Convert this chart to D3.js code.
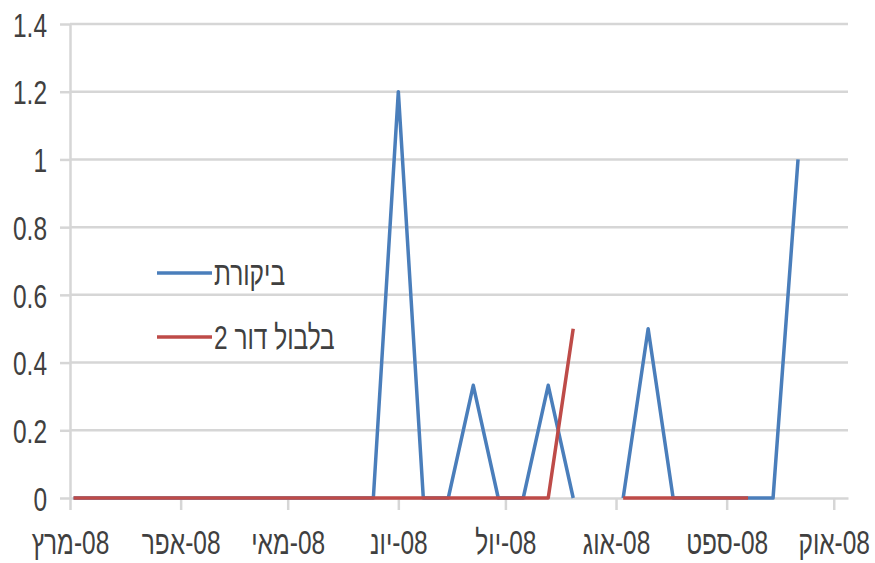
<!DOCTYPE html>
<html>
<head>
<meta charset="utf-8">
<script src="https://cdn.jsdelivr.net/npm/d3@7"></script>
<style>
  body { margin: 0; background: #fff; }
  text { font-family: "Liberation Sans", Arial, sans-serif; fill: #404040; }
</style>
</head>
<body>
<div id="vis"></div>
<script>
// weekly dates (sundays)
var dates = ["2008-03-02","2008-03-09","2008-03-16","2008-03-23","2008-03-30",
  "2008-04-06","2008-04-13","2008-04-20","2008-04-27","2008-05-04","2008-05-11",
  "2008-05-18","2008-05-25","2008-06-01","2008-06-08","2008-06-15","2008-06-22",
  "2008-06-29","2008-07-06","2008-07-13","2008-07-20","2008-07-27","2008-08-03",
  "2008-08-10","2008-08-17","2008-08-24","2008-08-31","2008-09-07","2008-09-14",
  "2008-09-21"];

var control = [0,0,0,0,0, 0,0,0,0,0,0, 0,0,1.2,0,0,0.333, 0,0,0.333,0,null,0,
  0.5,0,0,0,0,0, 1];
var confusion = [0,0,0,0,0, 0,0,0,0,0,0, 0,0,0,0,0,0, 0,0,0,0.5,null,0,
  0,0,0,0,0,null, null];

var seriesNames = ["ביקורת", "בלבול דור 2"];
var seriesColors = ["#4a7ebb", "#be4b48"];

var yTicks = [0, 0.2, 0.4, 0.6, 0.8, 1, 1.2, 1.4];
var monthLabels = ["08-מרץ","08-אפר","08-מאי","08-יונ","08-יול","08-אוג","08-ספט","08-אוק"];

var W = 875, H = 563;
var sx = 0.72; // labels in the picture are squeezed sideways
var parse = d3.timeParse("%Y-%m-%d");

var x = d3.scaleTime()
  .domain([new Date(2008, 2, 1), new Date(2008, 9, 5)])
  .range([70, 848]);
var y = d3.scaleLinear().domain([0, 1.4]).range([498, 24]);

var svg = d3.select("#vis").append("svg")
  .attr("width", W).attr("height", H);
svg.append("rect").attr("width", W).attr("height", H).attr("fill", "#fff");

// gridlines
svg.append("g").selectAll("line")
  .data(yTicks.filter(function(d){ return d > 0; }))
  .enter().append("line")
  .attr("x1", 70).attr("x2", 848)
  .attr("y1", function(d){ return y(d); })
  .attr("y2", function(d){ return y(d); })
  .attr("stroke", "#d6d6d6").attr("stroke-width", 2.5);

// y axis
var gy = svg.append("g").attr("transform", "translate(70,0)")
  .call(d3.axisLeft(y).tickValues(yTicks).tickSize(10).tickSizeOuter(0)
    .tickFormat(function(d){ return String(d); }));
gy.select(".domain").attr("stroke", "#d6d6d6").attr("stroke-width", 2.5);
gy.selectAll(".tick line").attr("stroke", "#d6d6d6").attr("stroke-width", 2.5);
gy.selectAll(".tick text")
  .attr("x", 0).attr("dy", "0.36em")
  .attr("transform", "translate(-23,0) scale(" + sx + ",1)")
  .style("font-size", "34px").style("fill", "#404040");

// x axis
var months = d3.timeMonth.range(new Date(2008, 2, 1), new Date(2008, 9, 2));
var gx = svg.append("g").attr("transform", "translate(0," + y(0) + ")")
  .call(d3.axisBottom(x).tickValues(months).tickSize(12).tickSizeOuter(0)
    .tickFormat(function(d, i){ return monthLabels[i]; }));
gx.select(".domain").attr("stroke", "#d6d6d6").attr("stroke-width", 2.5);
gx.selectAll(".tick line").attr("stroke", "#d6d6d6").attr("stroke-width", 2.5);
gx.selectAll(".tick text")
  .attr("y", 56).attr("dy", 0)
  .attr("direction", "rtl").style("direction", "rtl")
  .attr("transform", "scale(" + sx + ",1)")
  .style("font-size", "34px").style("fill", "#404040");

// lines
var line = d3.line()
  .defined(function(d){ return d.v !== null; })
  .x(function(d){ return x(d.t); })
  .y(function(d){ return y(d.v); });

[control, confusion].forEach(function(vals, k) {
  var pts = dates.map(function(s, i){ return {t: parse(s), v: vals[i]}; });
  svg.append("path").datum(pts)
    .attr("d", line)
    .attr("fill", "none")
    .attr("stroke", seriesColors[k])
    .attr("stroke-width", 3.5)
    .attr("stroke-linejoin", "round");
});

// legend
var lg = svg.append("g");
seriesNames.forEach(function(name, k) {
  var ly = 273 + k * 64;
  lg.append("line")
    .attr("x1", 157).attr("x2", 212)
    .attr("y1", ly).attr("y2", ly)
    .attr("stroke", seriesColors[k]).attr("stroke-width", 3.5);
  lg.append("text")
    .attr("direction", "rtl").style("direction", "rtl")
    .attr("text-anchor", "end")
    .attr("dy", "0.36em")
    .attr("transform", "translate(214," + ly + ") scale(" + sx + ",1)")
    .style("font-size", "34px")
    .text(name);
});
</script>
</body>
</html>
